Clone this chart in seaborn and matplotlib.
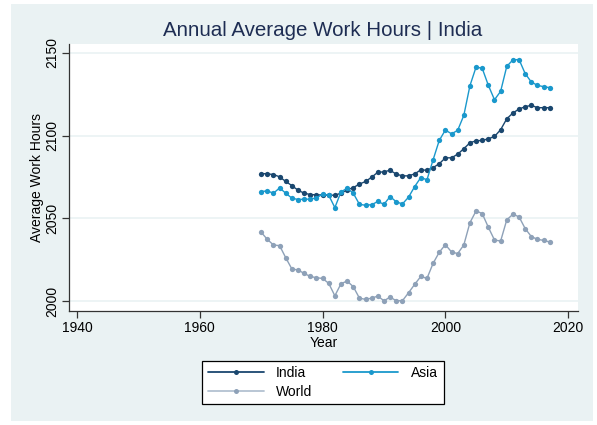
import numpy as np
import pandas as pd
import seaborn as sns
import matplotlib
matplotlib.use("Agg")
import matplotlib.pyplot as plt
from matplotlib.patches import Rectangle
from matplotlib.lines import Line2D

years = list(range(1970, 2018))

india = [2077.1, 2076.9, 2076.5, 2075.1, 2072.3, 2069.8, 2067.0, 2065.2, 2064.4, 2064.2,
         2064.2, 2064.0, 2064.0, 2065.2, 2067.2, 2068.6, 2070.7, 2072.3, 2074.9, 2077.9,
         2078.1, 2079.1, 2076.7, 2075.7, 2075.7, 2076.9, 2079.3, 2079.1, 2080.7, 2083.0,
         2086.6, 2086.6, 2088.8, 2092.1, 2095.7, 2096.9, 2097.1, 2098.1, 2099.5, 2103.6,
         2110.2, 2113.7, 2116.1, 2117.5, 2118.3, 2116.9, 2116.9, 2116.9]

asia = [2066.2, 2066.6, 2065.2, 2068.4, 2065.2, 2062.2, 2061.4, 2061.6, 2061.6, 2062.4,
        2064.6, 2064.0, 2056.5, 2066.0, 2068.2, 2065.2, 2058.5, 2057.9, 2058.3, 2060.2,
        2058.5, 2063.2, 2060.0, 2058.7, 2062.8, 2069.2, 2074.7, 2073.3, 2085.4, 2097.1,
        2103.4, 2101.1, 2103.2, 2112.2, 2130.2, 2141.5, 2140.7, 2130.4, 2121.7, 2126.8,
        2141.9, 2145.8, 2146.0, 2137.5, 2132.4, 2130.4, 2129.6, 2129.0]

world = [2041.6, 2037.3, 2033.9, 2033.5, 2026.2, 2019.4, 2018.8, 2016.7, 2014.9, 2014.1,
         2013.7, 2010.7, 2003.2, 2010.5, 2012.1, 2008.7, 2001.8, 2001.0, 2001.8, 2003.0,
         2000.2, 2002.4, 2000.2, 2000.2, 2005.0, 2010.1, 2014.9, 2013.7, 2022.8, 2029.5,
         2034.1, 2029.7, 2028.7, 2033.9, 2047.4, 2054.5, 2052.9, 2044.6, 2036.9, 2036.3,
         2049.1, 2052.5, 2050.9, 2043.8, 2039.0, 2037.3, 2036.7, 2035.7]

series_names = ["India", "Asia", "World"]
x_ticks = [1940, 1960, 1980, 2000, 2020]
y_ticks = [2000, 2050, 2100, 2150]

df = pd.DataFrame({
    "Year": years * 3,
    "Hours": india + asia + world,
    "Series": ["India"] * len(years) + ["Asia"] * len(years) + ["World"] * len(years),
})

sns.set_theme(style="white")
plt.rcParams["font.family"] = ["Liberation Sans", "DejaVu Sans"]

W, H = 597, 425
fig = plt.figure(figsize=(W / 100, H / 100), dpi=100, facecolor="white")
bg = "#EAF2F3"
fig.patches.append(Rectangle((11 / W, 1 - 421 / H), (593 - 11) / W, (421 - 4) / H,
                             transform=fig.transFigure, facecolor=bg, edgecolor="none", zorder=-10))

ax = fig.add_axes([69 / W, 1 - 311 / H, (578 - 69) / W, (311 - 44) / H])
ax.set_facecolor("white")
ax.set_zorder(1)

palette = {"India": "#1a476f", "Asia": "#1a98cc", "World": "#8ea1b8"}
sns.lineplot(data=df, x="Year", y="Hours", hue="Series", hue_order=series_names,
             palette=palette, marker="o", markersize=3.8, markeredgewidth=0,
             linewidth=1.0, ax=ax, legend=False)

ax.set_xlim(1938.7, 2021.6)
ax.set_ylim(1994.0, 2155.4)
ax.set_xticks(x_ticks)
ax.set_yticks(y_ticks)
ax.set_xticklabels([str(t) for t in x_ticks], fontsize=10, color="black")
ax.set_yticklabels([str(t) for t in y_ticks], fontsize=10, color="black", rotation=90, va="center")
ax.grid(axis="y", color=bg, linewidth=1.2)
ax.grid(axis="x", visible=False)
ax.set_axisbelow(True)
for s in ["top", "right"]:
    ax.spines[s].set_visible(False)
for s in ["left", "bottom"]:
    ax.spines[s].set_color("#333333")
    ax.spines[s].set_linewidth(0.9)
ax.tick_params(axis="both", direction="out", length=5, width=0.9, color="#333333", pad=2,
               left=True, bottom=True)
ax.set_xlabel("Year", fontsize=10, labelpad=1, color="black")
ax.set_ylabel("Average Work Hours", fontsize=10, labelpad=1, color="black")

fig.text(323 / W, 1 - 30 / H, "Annual Average Work Hours | India", fontsize=14.8,
         color="#1e2d53", ha="center", va="center")

hmap = {}
for name in series_names:
    c = palette[name]
    hmap[name] = Line2D([0], [0], color=c if name != "World" else "#b3c1d1", linewidth=1.3,
                        marker="o", markersize=3.6, markerfacecolor=c, markeredgewidth=0)
order = ["India", "World", "Asia"]
leg = fig.legend([hmap[n] for n in order], order, loc="center",
                 bbox_to_anchor=(323 / W, 1 - 382.5 / H), bbox_transform=fig.transFigure,
                 ncol=2, fontsize=10, frameon=True, fancybox=False, edgecolor="black",
                 framealpha=1.0, handlelength=4.0, handletextpad=0.9, columnspacing=2.2,
                 borderpad=0.4, labelspacing=0.35, markerscale=1.0)
leg.get_frame().set_linewidth(0.9)
leg.get_frame().set_facecolor("white")
for t in leg.get_texts():
    t.set_color("black")

fig.savefig("out.png", dpi=100, facecolor="white")
